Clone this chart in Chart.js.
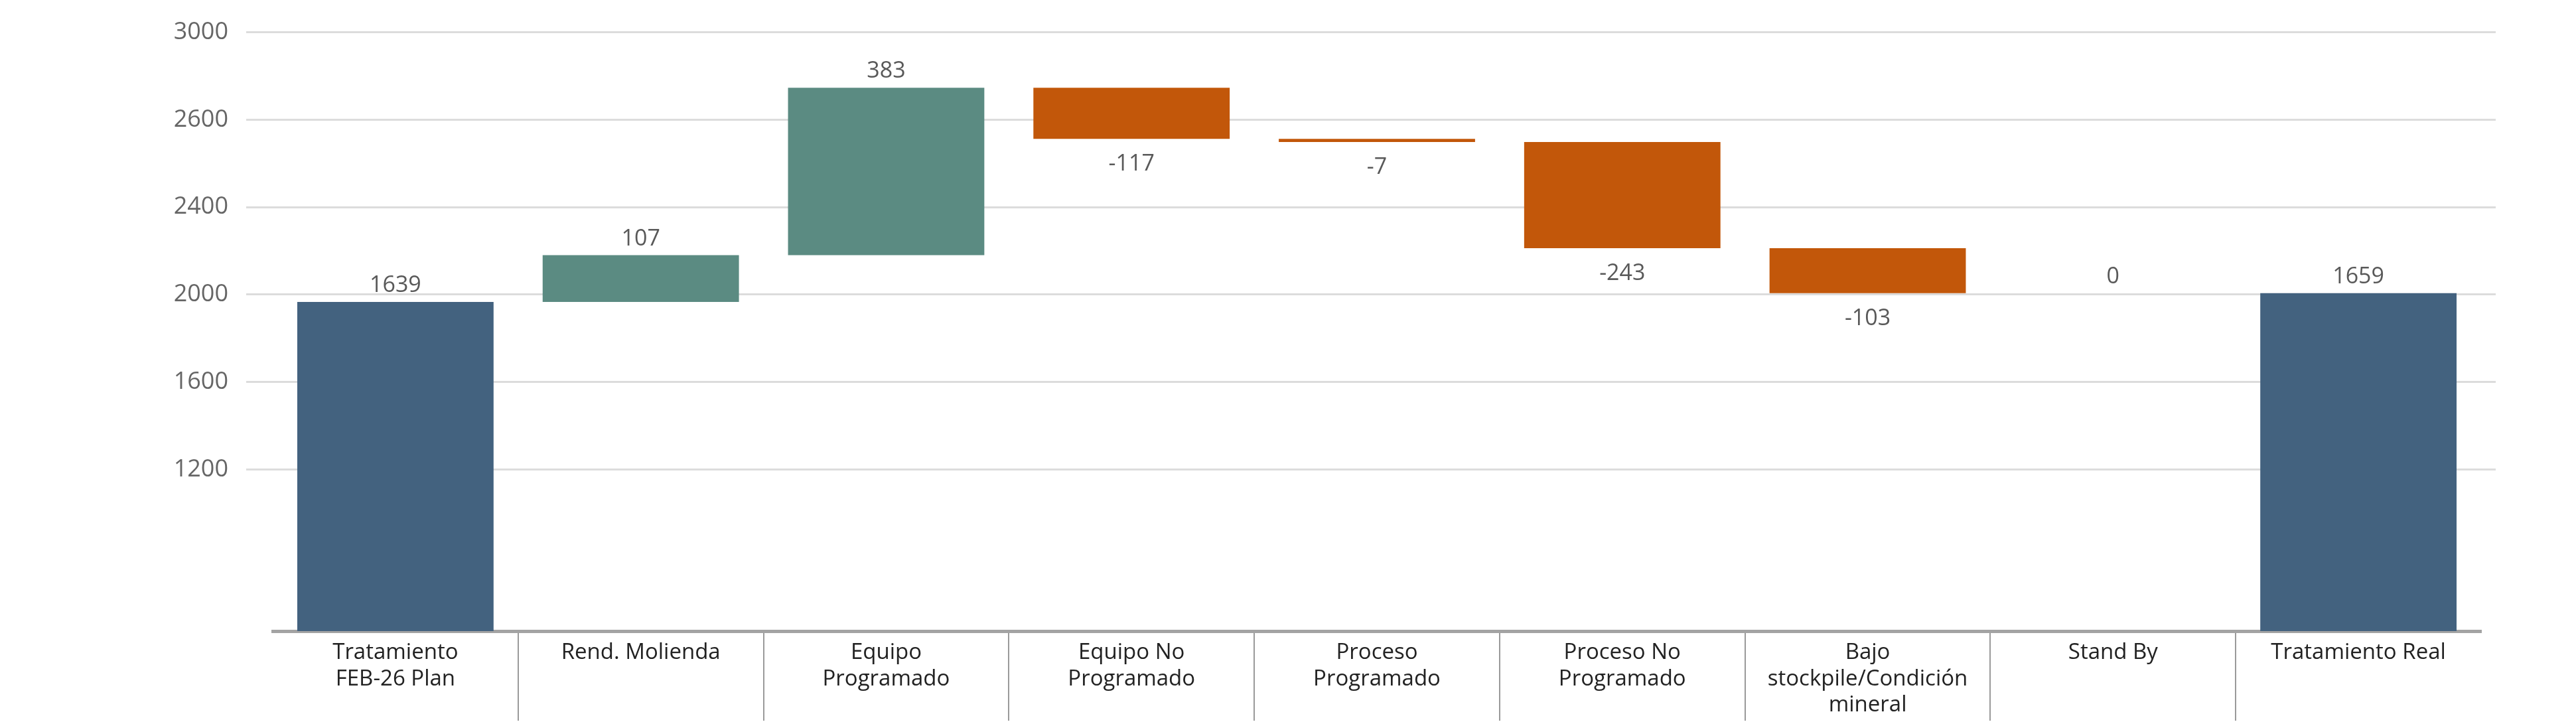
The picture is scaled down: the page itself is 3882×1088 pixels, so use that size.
<!DOCTYPE html>
<html>
<head>
<meta charset="utf-8">
<script src="https://cdn.jsdelivr.net/npm/chart.js@4/dist/chart.umd.min.js"></script>
<style>
  html, body { margin: 0; padding: 0; background: #ffffff; }
  #wrap { width: 3882px; height: 1088px; }
</style>
</head>
<body>
<div id="wrap"><canvas id="waterfall" width="3882" height="1088"></canvas></div>
<script>
// categorias del puente de tratamiento
const categories = [
  ["Tratamiento", "FEB-26 Plan"],
  "Rend. Molienda",
  ["Equipo", "Programado"],
  ["Equipo No", "Programado"],
  ["Proceso", "Programado"],
  ["Proceso No", "Programado"],
  ["Bajo", "stockpile/Condición", "mineral"],
  "Stand By",
  "Tratamiento Real",
];

const planTotal = 1639;
const deltas = [107, 383, -117, -7, -243, -103, 0];
const realTotal = 1659;

// eje Y tal como aparece en la imagen
const yTickValues = [2256, 2056, 1856, 1656, 1456, 1256];
const yTickLabels = ["3000", "2600", "2400", "2000", "1600", "1200"];
const yMin = 886;
const yMax = 2256;

const colorTotal = "#43627f";
const colorUp = "#5b8b82";
const colorDown = "#c2570a";

// armar barras flotantes
const barData = [[yMin, planTotal]];
const barText = [planTotal];
const barColors = [colorTotal];
let running = planTotal;
for (const d of deltas) {
  barData.push([running, running + d]);
  barText.push(d);
  barColors.push(d < 0 ? colorDown : colorUp);
  running += d;
}
barData.push([yMin, realTotal]);
barText.push(realTotal);
barColors.push(colorTotal);

const valueLabels = {
  id: "valueLabels",
  afterDatasetsDraw(chart) {
    const { ctx } = chart;
    const meta = chart.getDatasetMeta(0);
    ctx.save();
    ctx.font = '34px "Open Sans"';
    ctx.fillStyle = "#595959";
    ctx.textAlign = "center";
    ctx.textBaseline = "alphabetic";
    meta.data.forEach((bar, i) => {
      const top = Math.min(bar.y, bar.base);
      const bottom = Math.max(bar.y, bar.base);
      if (barText[i] < 0) {
        ctx.fillText(String(barText[i]), bar.x, bottom + 48);
      } else {
        ctx.fillText(String(barText[i]), bar.x, top - 15);
      }
    });
    ctx.restore();
  },
};

function separatorColor(c) {
  // solo separadores internos, sin bordes
  if (c.type === "tick" && c.index > 0 && c.index < categories.length) {
    return "#9a9a9a";
  }
  return "rgba(0,0,0,0)";
}

new Chart(document.getElementById("waterfall"), {
  type: "bar",
  data: {
    labels: categories,
    datasets: [
      {
        data: barData,
        backgroundColor: barColors,
        borderWidth: 0,
        categoryPercentage: 1,
        barPercentage: 0.8,
      },
    ],
  },
  options: {
    responsive: false,
    devicePixelRatio: 1,
    animation: false,
    layout: { padding: { left: 0, right: 121, top: 45, bottom: 0 } },
    plugins: {
      legend: { display: false },
      tooltip: { enabled: false },
    },
    scales: {
      x: {
        afterFit(axis) {
          axis.height = 137;
        },
        grid: {
          offset: true,
          drawOnChartArea: false,
          drawTicks: true,
          tickLength: 135,
          lineWidth: 2,
          color: separatorColor,
          tickColor: separatorColor,
        },
        border: { display: true, color: "#a3a3a3", width: 5 },
        ticks: {
          autoSkip: false,
          maxRotation: 0,
          padding: -122,
          color: "#222222",
          font: { family: "Open Sans", size: 33, lineHeight: 1.2 },
        },
      },
      y: {
        min: yMin,
        max: yMax,
        afterFit(axis) {
          axis.width = 411;
        },
        afterBuildTicks(axis) {
          axis.ticks = yTickValues.map((v) => ({ value: v }));
        },
        border: { display: false },
        grid: {
          color: "#dcdcdc",
          lineWidth: 3,
          drawTicks: true,
          tickLength: 40,
        },
        ticks: {
          padding: 27,
          color: "#666666",
          font: { family: "Open Sans", size: 36 },
          callback: (value, index) => yTickLabels[index],
        },
      },
      yRight: {
        position: "right",
        min: yMin,
        max: yMax,
        afterFit(axis) {
          axis.width = 22;
        },
        afterBuildTicks(axis) {
          axis.ticks = yTickValues.map((v) => ({ value: v }));
        },
        border: { display: false },
        grid: {
          color: "#dcdcdc",
          lineWidth: 3,
          drawOnChartArea: false,
          drawTicks: true,
          tickLength: 22,
        },
        ticks: { display: false },
      },
    },
  },
  plugins: [valueLabels],
});
</script>
</body>
</html>
